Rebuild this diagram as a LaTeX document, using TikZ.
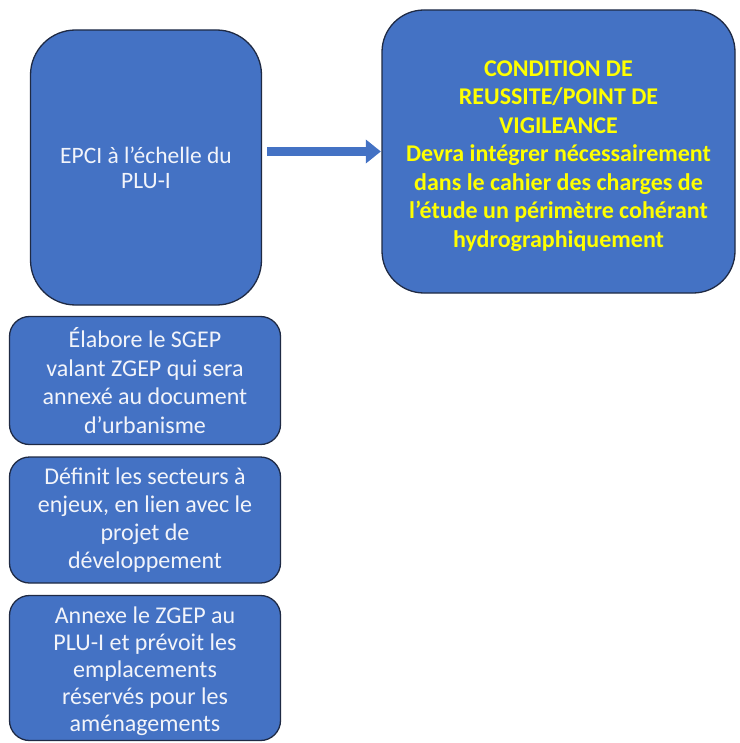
\documentclass[tikz,border=0pt]{standalone}
\usepackage{fontspec}
\usetikzlibrary{arrows.meta}
\setmainfont{Carlito}
\definecolor{boxblue}{HTML}{4472C4}
\definecolor{boxline}{HTML}{1F2A44}
\definecolor{txtwhite}{HTML}{F2F4FA}
\definecolor{txtyellow}{HTML}{FFFF00}
\tikzset{
  bluebox/.style={draw=boxline, line width=1.3pt, fill=boxblue, align=center, inner sep=0pt},
  whitetxt/.style={text=txtwhite},
}
\newcommand{\lowerby}[1]{\rule{0pt}{#1}}
\begin{document}
\begin{tikzpicture}[x=1pt,y=-1pt]
\useasboundingbox (0,0) rectangle (739,743);
\node[bluebox, whitetxt, rounded corners=45pt, minimum width=231pt, minimum height=275pt,
      font=\fontsize{23.5}{25}\selectfont] (epci) at (146,167.5)
  {EPCI à l’échelle du\\PLU-I};
\node[bluebox, rounded corners=42pt, minimum width=353pt, minimum height=283pt,
      text=txtyellow, font=\bfseries\fontsize{24}{28.5}\selectfont] (cond) at (558.5,151.5)
  {\lowerby{25pt}CONDITION DE\\REUSSITE/POINT DE\\VIGILEANCE\\Devra intégrer nécessairement\\dans le cahier des charges de\\l’étude un périmètre cohérant\\hydrographiquement};
\node[bluebox, whitetxt, rounded corners=20pt, minimum width=271pt, minimum height=128pt,
      font=\fontsize{24}{28.5}\selectfont] (sgep) at (145,380.5)
  {Élabore le SGEP\\valant ZGEP qui sera\\annexé au document\\d’urbanisme};
\node[bluebox, whitetxt, rounded corners=20pt, minimum width=271pt, minimum height=126pt,
      font=\fontsize{24}{28}\selectfont] (sect) at (145,520)
  {Définit les secteurs à\\enjeux, en lien avec le\\projet de\\développement};
\node[bluebox, whitetxt, rounded corners=20pt, minimum width=271pt, minimum height=145pt,
      font=\fontsize{24}{27}\selectfont] (annx) at (145,668)
  {\lowerby{23pt}Annexe le ZGEP au\\PLU-I et prévoit les\\emplacements\\réservés pour les\\aménagements};
\coordinate (a1) at ([xshift=5pt]epci.east |- 0,151.5);
\coordinate (a2) at ([xshift=-0.5pt]cond.west |- 0,151.5);
\draw[boxblue, line width=9pt, -{Triangle[length=15pt,width=23pt]}] (a1) -- (a2);
\end{tikzpicture}
\end{document}
